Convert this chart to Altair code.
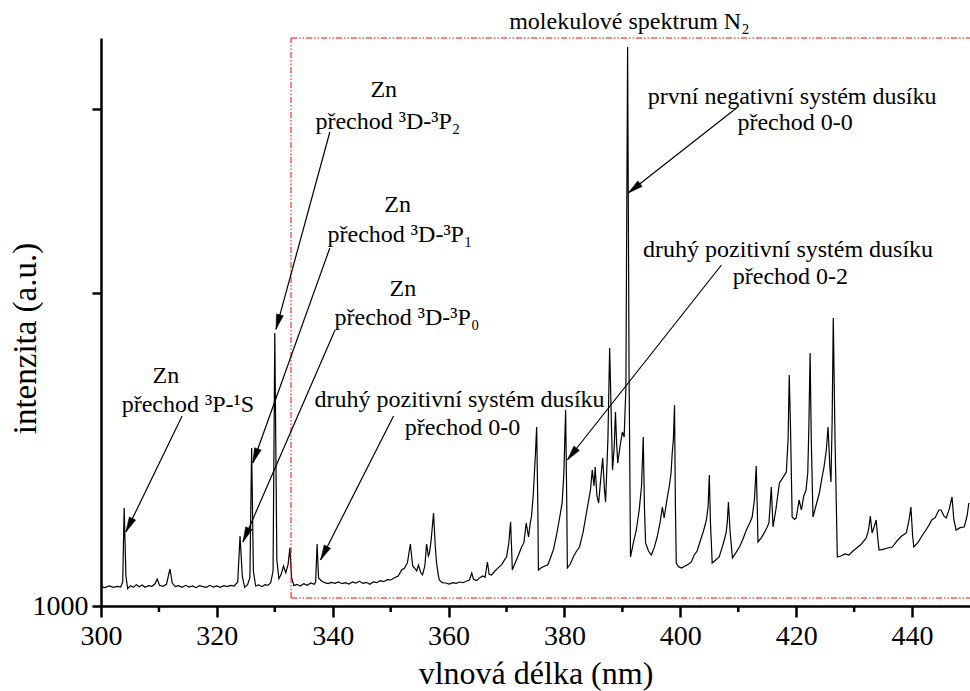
import math

import altair as alt
import pandas as pd

# ---------------------------------------------------------------- spectrum
wavelength = [
    300.0, 300.7, 301.4, 302.1, 302.8, 303.4, 303.75, 304.0, 304.3, 304.6,
    305.1, 305.6, 306.1, 306.6, 307.1, 307.6, 308.2, 308.8, 309.3, 309.7,
    310.1, 310.7, 311.3, 311.9, 312.3, 312.8, 313.4, 314.0, 314.6, 315.2,
    315.8, 316.4, 317.0, 317.6, 318.2, 318.8, 319.4, 320.0, 320.6, 321.2,
    321.8, 322.4, 323.0, 323.6, 324.0, 324.4, 324.8, 325.3, 325.7, 326.0,
    326.3, 326.7, 327.2, 327.8, 328.3, 328.8, 329.3, 329.7, 330.0, 330.35,
    330.7, 331.1, 331.5, 331.9, 332.3, 332.6, 332.9, 333.3, 333.8, 334.4,
    335.0, 335.6, 336.2, 336.8, 337.05, 337.3, 337.55, 338.0,
    338.6, 339.2, 339.8, 340.4, 341.0, 341.6, 342.2, 342.8, 343.4, 344.0,
    344.6, 345.2, 345.8, 346.4, 347.0, 347.6, 348.2, 348.8, 349.4, 350.0,
    350.6, 351.3, 351.9, 352.4, 352.9, 353.4, 353.8, 354.1, 354.5, 354.8,
    355.2, 355.5, 355.9, 356.2, 356.5, 356.7, 357.0, 357.4, 357.7, 357.9,
    358.2, 358.4, 358.9, 359.5, 360.1, 360.7, 361.3, 361.9, 362.5, 363.1,
    363.6, 364.0, 364.3, 364.8, 365.4, 365.9, 366.3, 366.7, 367.0, 367.4,
    368.0, 368.6, 369.2, 369.7, 370.0, 370.4, 370.7, 370.9, 371.0, 371.5,
    372.0, 372.6, 373.0, 373.4, 373.8, 374.1, 374.3, 374.6, 375.0, 375.2,
    375.4, 375.5, 376.0, 376.6, 377.1, 377.6, 378.1, 378.6, 379.1, 379.6,
    379.9, 380.2, 380.4, 380.5, 381.0, 381.6, 382.1, 382.6, 383.2, 383.7,
    384.2, 384.5, 384.8, 385.1, 385.3, 385.6, 385.9, 386.2, 386.6, 386.9,
    387.1, 387.5, 387.8, 388.1, 388.3, 388.6, 388.8, 389.0, 389.2, 389.6,
    390.0, 390.3, 390.6, 390.9, 391.15, 391.4, 391.9, 392.4, 392.9, 393.3,
    393.6, 393.8, 394.0, 394.5, 395.0, 395.5, 396.0, 396.5, 396.9, 397.2,
    397.7, 398.1, 398.4, 398.6, 398.8, 399.0, 399.15, 399.3, 399.7, 400.2,
    400.8, 401.4, 401.9, 402.4, 402.9, 403.6, 404.0, 404.5, 404.8, 405.0,
    405.2, 405.5, 406.1, 406.7, 407.3, 407.9, 408.1, 408.3, 408.6, 409.0,
    409.6, 410.2, 410.8, 411.4, 412.0, 412.4, 412.8, 413.1, 413.3, 413.4,
    414.0, 414.5, 415.0, 415.3, 415.7, 416.0, 416.5, 417.1, 417.7, 418.3,
    418.6, 418.8, 419.0, 419.3, 419.7, 420.0, 420.5, 420.9, 421.3, 421.7,
    422.0, 422.2, 422.4, 422.6, 422.9, 423.4, 424.0, 424.4, 424.8, 425.2,
    425.5, 425.8, 426.0, 426.2, 426.4, 426.7, 427.1, 427.7, 428.4, 429.1,
    429.8, 430.5, 431.2, 432.1, 432.5, 432.8, 433.1, 433.5, 433.8, 434.1,
    434.3, 435.0, 435.8, 436.6, 437.4, 438.2, 439.0, 439.5, 439.8, 440.1,
    440.3, 441.0, 441.7, 442.4, 443.0, 443.4, 444.0, 444.6, 445.0, 445.5,
    445.9, 446.4, 446.9, 447.2, 447.6, 448.3, 449.0, 449.5, 449.8,
]
intensity = [
    1580, 1550, 1600, 1560, 1590, 1570, 1720, 3940, 1900, 1520,
    1610, 1560, 1640, 1580, 1630, 1560, 1610, 1590, 1660, 1810,
    1620, 1590, 1650, 2110, 1690, 1580, 1610, 1560, 1620, 1570,
    1600, 1550, 1610, 1580, 1560, 1620, 1570, 1600, 1560, 1610,
    1580, 1620, 1600, 1720, 3100, 1880, 1560, 1640, 1850, 5740,
    2050, 1600, 1630, 1580, 1640, 1620, 1700, 2050, 9190, 2400,
    1820, 1950, 2200, 2000, 2250, 2740, 1850, 1610, 1650, 1600,
    1670, 1620, 1690, 1650, 1720, 2860, 1850, 1760,
    1700, 1670, 1710, 1680, 1720, 1670, 1700, 1660, 1720, 1690,
    1740, 1680, 1710, 1650, 1720, 1700, 1760, 1730, 1790, 1780,
    1840, 1900, 2080, 2140, 2300, 2860, 2200, 2140, 2050, 2230,
    2000, 1930, 2200, 2860, 2500, 2590, 3000, 3790, 2800, 2320,
    1950, 1780, 1700, 1690, 1660, 1700, 1680, 1720, 1700, 1750,
    1780, 1990, 1800, 1760, 1850, 1900, 1860, 2320, 1950, 1930,
    2050, 2150, 2250, 2400, 2470, 2900, 3520, 2600, 2080, 2300,
    2500, 2770, 2900, 3490, 3070, 3500, 3670, 4300, 5600, 6370,
    4000, 2080, 2150, 2200, 2230, 2450, 2700, 3100, 3580, 4100,
    5000, 6880, 4000, 2140, 2260, 2500, 2650, 2770, 3200, 3700,
    4200, 4500, 5080, 4600, 5170, 4300, 4090, 4700, 5440, 4500,
    4120, 6000, 8740, 6500, 5080, 5800, 6820, 5900, 5290, 5800,
    6220, 6070, 7500, 17770, 8000, 2470, 2900, 3280, 3880, 4600,
    6070, 4000, 2890, 2650, 2530, 2750, 3070, 3500, 3970, 3640,
    4200, 4600, 4990, 5590, 6000, 7030, 4000, 2290, 2180, 2140,
    2200, 2250, 2320, 2530, 2650, 3040, 3250, 3580, 4000, 4930,
    3500, 2290, 2380, 2470, 2800, 3190, 3500, 4120, 3200, 2440,
    2600, 2770, 3000, 3280, 3500, 3670, 4200, 5200, 3800, 2920,
    3050, 3200, 3370, 3500, 4570, 3370, 3900, 4690, 4850, 5020,
    6000, 7930, 6500, 3670, 3600, 3640, 4180, 3880, 4300, 4480,
    5000, 6500, 8590, 6000, 3670, 4000, 4390, 4800, 5170, 5680,
    6370, 5200, 4720, 6500, 9640, 6000, 2470, 2500, 2560, 2530,
    2650, 2750, 2850, 3040, 3300, 3700, 3190, 3400, 3580, 3000,
    2680, 2700, 2740, 2770, 2950, 3100, 3190, 3600, 3970, 3100,
    2770, 2900, 3100, 3280, 3450, 3580, 3650, 3880, 3880, 3700,
    3640, 3900, 4270, 3600, 3280, 3350, 3370, 3700, 4090,
]

# ---------------------------------------------------------------- axes
x_range = [300, 450]
y_range = [1000, 18040]
x_major = [300, 320, 340, 360, 380, 400, 420, 440]
x_minor = [310, 330, 350, 370, 390, 410, 430]
y_ticks = [1000, 10400, 15900]

# dash-dot frame around the molecular part of the spectrum
box_x = [332.8, 450]
box_y = [1240, 18040]

# ---------------------------------------------------------------- labels
label_text = [
    "Zn", "přechod ³P-¹S",
    "Zn", "přechod ³D-³P₂",
    "Zn", "přechod ³D-³P₁",
    "Zn", "přechod ³D-³P₀",
    "druhý pozitivní systém dusíku", "přechod 0-0",
    "první negativní systém dusíku", "přechod 0-0",
    "druhý pozitivní systém dusíku", "přechod 0-2",
    "molekulové spektrum N₂",
]
label_x = [
    311.2, 315.0,
    348.8, 349.5,
    351.2, 351.6,
    352.1, 352.8,
    361.9, 362.4,
    419.3, 419.8,
    418.6, 419.0,
    391.2,
]
label_y = [
    7900, 7030,
    16480, 15520,
    13030, 12130,
    10510, 9640,
    7180, 6340,
    16270, 15490,
    11680, 10870,
    18520,
]

# arrows: tail (x0, y0) -> head (x1, y1)
arrow_x0 = [314.0, 339.5, 339.5, 340.4, 350.5, 409.7, 407.1]
arrow_y0 = [6700, 15220, 11740, 9280, 6700, 15940, 11230]
arrow_x1 = [304.3, 330.2, 326.2, 324.5, 337.9, 391.0, 380.5]
arrow_y1 = [3220, 9300, 5290, 2920, 2380, 13390, 5380]

# ---------------------------------------------------------------- layout
W, H = 869, 568
FONT = "Liberation Serif"

spectrum = pd.DataFrame({"wl": wavelength, "I": intensity})
labels = pd.DataFrame({"x": label_x, "y": label_y, "text": label_text})

px_per_nm = W / (x_range[1] - x_range[0])
px_per_unit = H / (y_range[1] - y_range[0])
angles = []
for xa, ya, xb, yb in zip(arrow_x0, arrow_y0, arrow_x1, arrow_y1):
    dx = (xb - xa) * px_per_nm
    dy = -(yb - ya) * px_per_unit
    angles.append((math.degrees(math.atan2(dx, -dy)) + 360) % 360)
arrows = pd.DataFrame({
    "x0": arrow_x0, "y0": arrow_y0, "x1": arrow_x1, "y1": arrow_y1,
    "angle": angles,
})

box = pd.DataFrame({
    "x0": [box_x[0], box_x[0], box_x[0]],
    "x1": [box_x[0], box_x[1], box_x[1]],
    "y0": [box_y[0], box_y[0], box_y[1]],
    "y1": [box_y[1], box_y[0], box_y[1]],
})

xs = alt.Scale(domain=x_range, nice=False, zero=False)
ys = alt.Scale(domain=y_range, nice=False, zero=False)

# one axis definition shared by every layer, so the layers merge cleanly
x_axis = alt.Axis(
    values=x_major, format="d", title="vlnová délka (nm)",
    labelFont=FONT, labelFontSize=28, labelColor="black", labelPadding=5,
    labelFlush=False,
    tickSize=11, tickWidth=2.5, tickColor="black",
    domainWidth=2.5, domainColor="black",
    titleFont=FONT, titleFontSize=32, titleFontWeight="normal",
    titleColor="black", titlePadding=8, grid=False,
)
y_axis = alt.Axis(
    values=y_ticks, labelExpr="datum.value == 1000 ? '1000' : ''",
    title="intenzita (a.u.)",
    labelFont=FONT, labelFontSize=28, labelColor="black", labelPadding=4,
    labelFlush=False,
    tickSize=9, tickWidth=2.5, tickColor="black",
    domainWidth=2.5, domainColor="black",
    titleFont=FONT, titleFontSize=33, titleFontWeight="normal",
    titleColor="black", titleBaseline="alphabetic",
    titleX=-66, titleY=300, grid=False,
)


def X(field):
    return alt.X(field, type="quantitative", scale=xs, axis=x_axis)


def Y(field):
    return alt.Y(field, type="quantitative", scale=ys, axis=y_axis)


line = alt.Chart(spectrum).mark_line(color="black", strokeWidth=1.2).encode(
    x=X("wl"), y=Y("I"),
)

# unlabelled minor ticks between the labelled ones
minor = alt.Chart(pd.DataFrame({"t": x_minor})).mark_rule(
    color="black", strokeWidth=2.5
).encode(
    x=X("t"),
    y=alt.value(H),
    y2=alt.value(H + 6),
)

frame = alt.Chart(box).mark_rule(
    color="#ff0000", strokeWidth=1, strokeDash=[6, 2, 1.5, 2, 1.5, 2]
).encode(x=X("x0"), x2="x1:Q", y=Y("y0"), y2="y1:Q")

shafts = alt.Chart(arrows).mark_rule(color="black", strokeWidth=1.2).encode(
    x=X("x0"), x2="x1:Q", y=Y("y0"), y2="y1:Q",
)

heads = alt.Chart(arrows).mark_point(
    shape="M0,0L-0.47,2L0.47,2Z", filled=True, fill="black",
    stroke="black", strokeWidth=0.5, opacity=1, size=225,
).encode(
    x=X("x1"), y=Y("y1"),
    angle=alt.Angle("angle:Q", scale=None),
)

texts = alt.Chart(labels).mark_text(
    font=FONT, fontSize=24, color="black", align="center", baseline="middle"
).encode(x=X("x"), y=Y("y"), text="text:N")

chart = alt.layer(line, frame, minor, shafts, heads, texts).properties(
    width=W, height=H,
    padding={"left": 101, "top": 38, "right": 0, "bottom": 85},
    autosize=alt.AutoSizeParams(type="none"),
    background="white",
).configure_view(strokeWidth=0)

chart.save("out.html", embed_options={"renderer": "svg", "actions": False})
